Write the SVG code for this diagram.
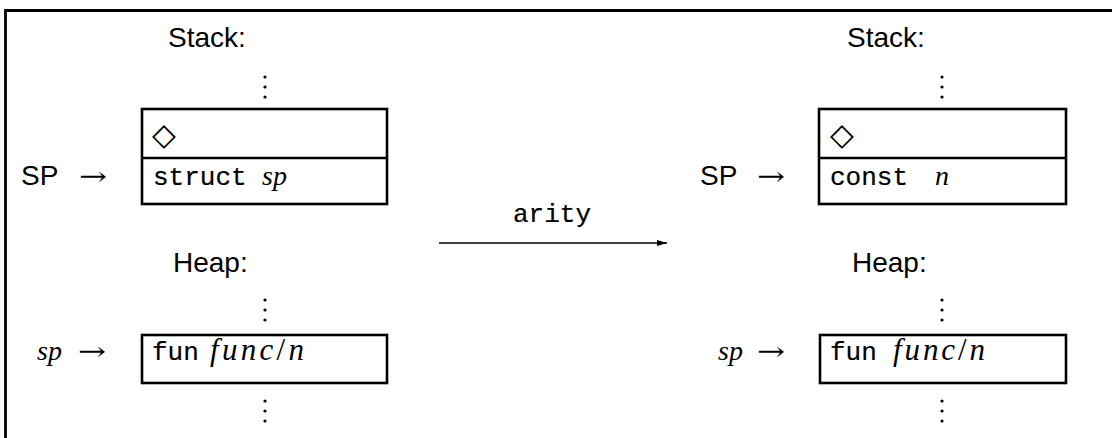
<svg xmlns="http://www.w3.org/2000/svg" width="1112" height="438" viewBox="0 0 1112 438">
<style>
.box{fill:#fff;stroke:#000;stroke-width:2.6}
.sans{font-family:"Liberation Sans","DejaVu Sans",sans-serif;font-size:28px;fill:#000}
.mono{font-family:"Liberation Mono","DejaVu Sans Mono",monospace;font-size:26px;fill:#000;stroke:#000;stroke-width:0.2}
.it{font-family:"Liberation Serif","DejaVu Serif",serif;font-style:italic;font-size:28px;fill:#000}
.itl{font-size:31px}
.up{font-family:"Liberation Serif","DejaVu Serif",serif;font-style:normal}
.arr{font-family:"DejaVu Serif","Liberation Serif",serif;font-size:26px;fill:#000}
.sym{font-family:"DejaVu Sans",sans-serif;font-size:31px;fill:#000}
.dot{fill:#000}
</style>
<defs>
<marker id="ah" viewBox="0 0 10 6" refX="10" refY="3" markerWidth="10" markerHeight="6" markerUnits="userSpaceOnUse" orient="auto">
<path d="M0,0 L10,3 L0,6 Z" fill="#000"/>
</marker>
<g id="vdots"><circle cx="0" cy="0" r="1.6" class="dot"/><circle cx="0" cy="10" r="1.6" class="dot"/><circle cx="0" cy="20" r="1.6" class="dot"/></g>
</defs>
<rect width="1112" height="438" fill="#fff"/>
<path d="M5.5,438 V10.5 H1112" fill="none" stroke="#000" stroke-width="2.8"/>

<g id="left-stack">
<text class="sans" x="168" y="47">Stack:</text>
<use href="#vdots" x="265" y="77"/>
<rect class="box" x="142" y="109" width="245" height="95"/>
<line x1="142" y1="158" x2="387" y2="158" stroke="#000" stroke-width="2.6"/>
<text class="sym" x="152" y="145">◇</text>
<text class="mono" x="153" y="185">struct</text>
<text class="it" x="262" y="185">sp</text>
<text class="sans" x="21" y="185">SP</text>
<text class="arr" x="79" y="185" textLength="28" lengthAdjust="spacingAndGlyphs">→</text>
</g>

<g id="left-heap">
<text class="sans" x="173" y="272">Heap:</text>
<use href="#vdots" x="265" y="300"/>
<rect class="box" x="142" y="335" width="245" height="48"/>
<text class="mono" x="152" y="360">fun</text>
<text class="it itl" x="210" y="360" textLength="94" lengthAdjust="spacing">func<tspan class="up">/</tspan>n</text>
<text class="it" x="37" y="360">sp</text>
<text class="arr" x="78" y="360" textLength="28" lengthAdjust="spacingAndGlyphs">→</text>
<use href="#vdots" x="265" y="401"/>
</g>

<g id="right-stack">
<text class="sans" x="847" y="47">Stack:</text>
<use href="#vdots" x="942" y="77"/>
<rect class="box" x="819" y="109" width="247" height="95"/>
<line x1="819" y1="158" x2="1066" y2="158" stroke="#000" stroke-width="2.6"/>
<text class="sym" x="830" y="145">◇</text>
<text class="mono" x="830" y="185">const</text>
<text class="it" x="935" y="185">n</text>
<text class="sans" x="700" y="185">SP</text>
<text class="arr" x="757" y="185" textLength="28" lengthAdjust="spacingAndGlyphs">→</text>
</g>

<g id="right-heap">
<text class="sans" x="852" y="272">Heap:</text>
<use href="#vdots" x="942" y="300"/>
<rect class="box" x="820" y="335" width="246" height="48"/>
<text class="mono" x="830" y="360">fun</text>
<text class="it itl" x="893" y="360" textLength="92" lengthAdjust="spacing">func<tspan class="up">/</tspan>n</text>
<text class="it" x="718" y="360">sp</text>
<text class="arr" x="757" y="360" textLength="28" lengthAdjust="spacingAndGlyphs">→</text>
<use href="#vdots" x="942" y="401"/>
</g>

<g id="connectors">
<line x1="439" y1="243" x2="667" y2="243" stroke="#000" stroke-width="1.6" marker-end="url(#ah)"/>
<text class="mono" x="513" y="222">arity</text>
</g>
</svg>
